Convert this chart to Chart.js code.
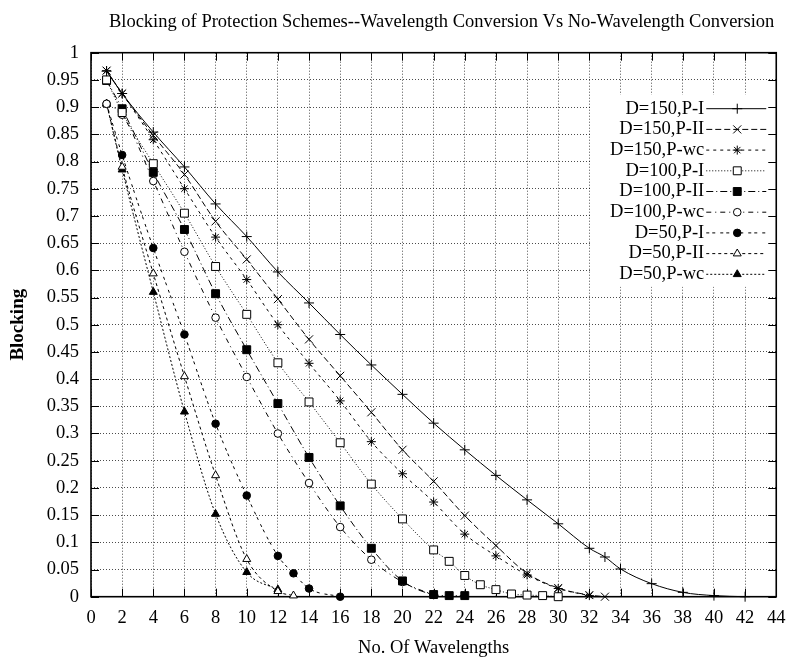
<!DOCTYPE html>
<html>
<head>
<meta charset="utf-8">
<script src="https://cdn.jsdelivr.net/npm/chart.js@4.4.0/dist/chart.umd.min.js"></script>
<style>
  html, body { margin: 0; padding: 0; background: #fff; }
</style>
</head>
<body>
<canvas id="chart" width="796" height="661"></canvas>
<script>
// values
const chartTitle = 'Blocking of Protection Schemes--Wavelength Conversion Vs No-Wavelength Conversion';
const xTickValues = [0, 2, 4, 6, 8, 10, 12, 14, 16, 18, 20, 22, 24, 26, 28, 30, 32, 34, 36, 38, 40, 42, 44];

const x150PI = [1, 2, 4, 6, 8, 10, 12, 14, 16, 18, 20, 22, 24, 26, 28, 30, 32, 33, 34, 36, 38, 40, 42];
const y150PI = [0.966, 0.925, 0.854, 0.79, 0.722, 0.662, 0.597, 0.54, 0.482, 0.426, 0.372, 0.319, 0.27, 0.223, 0.178, 0.134, 0.089, 0.073, 0.051, 0.024, 0.008, 0.002, 0];

const x150PII = [1, 2, 4, 6, 8, 10, 12, 14, 16, 18, 20, 22, 24, 26, 28, 30, 32, 33];
const y150PII = [0.967, 0.925, 0.848, 0.776, 0.69, 0.62, 0.547, 0.473, 0.406, 0.339, 0.27, 0.212, 0.149, 0.094, 0.043, 0.016, 0.003, 0];

const x150Pwc = [1, 2, 4, 6, 8, 10, 12, 14, 16, 18, 20, 22, 24, 26, 28, 30, 32];
const y150Pwc = [0.967, 0.925, 0.84, 0.75, 0.661, 0.583, 0.5, 0.429, 0.36, 0.285, 0.226, 0.174, 0.115, 0.075, 0.04, 0.015, 0.002];

const x100PI = [1, 2, 4, 6, 8, 10, 12, 14, 16, 18, 20, 22, 23, 24, 25, 26, 27, 28, 29, 30];
const y100PI = [0.95, 0.89, 0.796, 0.705, 0.607, 0.519, 0.43, 0.358, 0.283, 0.207, 0.143, 0.086, 0.065, 0.039, 0.022, 0.013, 0.005, 0.003, 0.002, 0];

const x100PII = [1, 2, 4, 6, 8, 10, 12, 14, 16, 18, 20, 22, 23, 24];
const y100PII = [0.949, 0.897, 0.78, 0.675, 0.557, 0.454, 0.355, 0.256, 0.167, 0.089, 0.029, 0.004, 0.002, 0.002];

const x100Pwc = [1, 2, 4, 6, 8, 10, 12, 14, 16, 18, 20, 22];
const y100Pwc = [0.906, 0.886, 0.764, 0.634, 0.513, 0.404, 0.3, 0.209, 0.128, 0.068, 0.027, 0.003];

const x50PI = [1, 2, 4, 6, 8, 10, 12, 13, 14, 16];
const y50PI = [0.906, 0.812, 0.641, 0.482, 0.318, 0.186, 0.075, 0.043, 0.015, 0];

const x50PII = [1, 2, 4, 6, 8, 10, 12, 13];
const y50PII = [0.906, 0.79, 0.594, 0.405, 0.223, 0.069, 0.01, 0.002];

const x50Pwc = [1, 2, 4, 6, 8, 10, 12];
const y50Pwc = [0.906, 0.785, 0.56, 0.34, 0.152, 0.045, 0.013];

const SERIF = '"Liberation Serif", "Times New Roman", serif';
const FONT_SIZE = 18.5;
Chart.defaults.font.family = SERIF;
Chart.defaults.color = '#000';

function pts(xs, ys) {
    return xs.map((x, i) => ({ x: x, y: ys[i] }));
}

// label, x, y, marker, filled, radius, dash
const series = [
    ['D=150,P-I', x150PI, y150PI, 'cross', true, 5, []],
    ['D=150,P-II', x150PII, y150PII, 'crossRot', true, 5.7, [6, 3]],
    ['D=150,P-wc', x150Pwc, y150Pwc, 'star', true, 4.5, [3, 4]],
    ['D=100,P-I', x100PI, y100PI, 'rect', false, 5.6, [1, 2]],
    ['D=100,P-II', x100PII, y100PII, 'rect', true, 5.6, [7, 3, 1, 3]],
    ['D=100,P-wc', x100Pwc, y100Pwc, 'circle', false, 3.8, [5, 4, 1, 4]],
    ['D=50,P-I', x50PI, y50PI, 'circle', true, 3.8, [3, 3, 3, 5]],
    ['D=50,P-II', x50PII, y50PII, 'triangle', false, 4.6, [3, 3]],
    ['D=50,P-wc', x50Pwc, y50Pwc, 'triangle', true, 4.6, [2, 2]]
];

const datasets = series.map(s => ({
    label: s[0],
    data: pts(s[1], s[2]),
    showLine: true,
    borderColor: '#000',
    borderWidth: 1,
    borderDash: s[6],
    cubicInterpolationMode: 'monotone',
    pointStyle: s[3],
    pointRadius: s[5],
    pointBorderWidth: 1,
    pointBorderColor: '#000',
    pointBackgroundColor: s[4] ? '#000' : '#fff',
    clip: false
}));

// gnuplot style frame, inward ticks, title and opaque key
const framePlugin = {
    id: 'frame',
    beforeDatasetsDraw(chart) {
        const { ctx, chartArea: a, scales } = chart;
        ctx.save();

        ctx.fillStyle = '#000';
        ctx.font = FONT_SIZE + 'px ' + SERIF;
        ctx.textAlign = 'center';
        ctx.textBaseline = 'middle';
        ctx.fillText(chartTitle, (a.left + a.right) / 2 + 8, 22);

        const keyLeft = a.right - 185;
        const keyTop = a.top + 42;
        ctx.fillStyle = '#fff';
        ctx.fillRect(keyLeft, keyTop, a.right - keyLeft, 192);

        ctx.strokeStyle = '#000';
        ctx.lineWidth = 1;
        ctx.setLineDash([]);
        ctx.beginPath();
        scales.x.ticks.forEach(t => {
            const px = Math.round(scales.x.getPixelForValue(t.value)) + 0.5;
            ctx.moveTo(px, a.bottom); ctx.lineTo(px, a.bottom - 8);
            ctx.moveTo(px, a.top); ctx.lineTo(px, a.top + 8);
        });
        scales.y.ticks.forEach(t => {
            const py = Math.round(scales.y.getPixelForValue(t.value)) + 0.5;
            ctx.moveTo(a.left, py); ctx.lineTo(a.left + 8, py);
            ctx.moveTo(a.right, py); ctx.lineTo(a.right - 8, py);
        });
        ctx.stroke();

        ctx.lineWidth = 1.6;
        ctx.strokeRect(a.left, a.top, a.right - a.left, a.bottom - a.top);

        // key entries
        ctx.font = FONT_SIZE + 'px ' + SERIF;
        ctx.textAlign = 'right';
        ctx.textBaseline = 'middle';
        chart.data.datasets.forEach((ds, i) => {
            const ry = a.top + 56 + i * 20.7;
            ctx.fillStyle = '#000';
            ctx.fillText(ds.label, a.right - 72, ry);
            ctx.lineWidth = 1;
            ctx.setLineDash(ds.borderDash);
            ctx.beginPath();
            ctx.moveTo(a.right - 70, ry);
            ctx.lineTo(a.right - 10, ry);
            ctx.stroke();
            ctx.setLineDash([]);
            ctx.fillStyle = ds.pointBackgroundColor;
            Chart.helpers.drawPoint(ctx, {
                pointStyle: ds.pointStyle,
                radius: ds.pointRadius,
                borderWidth: 1,
                rotation: 0
            }, a.right - 39, ry);
        });
        ctx.restore();
    }
};

new Chart(document.getElementById('chart'), {
    type: 'scatter',
    data: { datasets: datasets },
    options: {
        responsive: false,
        animation: false,
        layout: { padding: { left: 0, right: 13, top: 52.7, bottom: 0 } },
        scales: {
            x: {
                type: 'linear',
                min: 0,
                max: 44,
                afterFit: s => { s.height = 64.3; },
                afterBuildTicks: s => { s.ticks = xTickValues.map(v => ({ value: v })); },
                ticks: {
                    autoSkip: false,
                    maxRotation: 0,
                    padding: 10.5,
                    font: { size: FONT_SIZE },
                    callback: v => String(v)
                },
                grid: { color: 'rgba(0,0,0,0.7)', lineWidth: 1, drawTicks: false },
                border: { display: false, dash: [1, 2] },
                title: {
                    display: true,
                    text: 'No. Of Wavelengths',
                    font: { size: FONT_SIZE },
                    padding: { top: 0, bottom: 2 }
                }
            },
            y: {
                type: 'linear',
                min: 0,
                max: 1,
                afterFit: s => { s.width = 91; },
                ticks: {
                    stepSize: 0.05,
                    autoSkip: false,
                    padding: 12,
                    font: { size: FONT_SIZE },
                    callback: v => String(Math.round(v * 100) / 100)
                },
                grid: { color: 'rgba(0,0,0,0.7)', lineWidth: 1, drawTicks: false },
                border: { display: false, dash: [1, 2] },
                title: {
                    display: true,
                    text: 'Blocking',
                    font: { size: 19, weight: 'bold' },
                    padding: { top: 6.6, bottom: 0 }
                }
            }
        },
        plugins: {
            legend: { display: false },
            tooltip: { enabled: false },
            title: { display: false }
        }
    },
    plugins: [framePlugin]
});
</script>
</body>
</html>
